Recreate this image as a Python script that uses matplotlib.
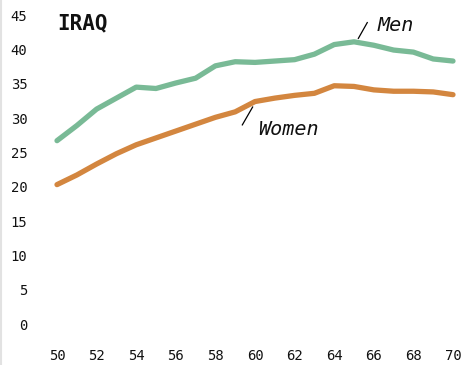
import matplotlib
matplotlib.use("Agg")
import matplotlib.pyplot as plt

years = list(range(50, 71))
men = [26.7, 28.9, 31.3, 32.9, 34.5, 34.3, 35.1, 35.8, 37.6, 38.2, 38.1,
       38.3, 38.5, 39.3, 40.7, 41.1, 40.6, 39.9, 39.6, 38.6, 38.3]
women = [20.3, 21.7, 23.3, 24.8, 26.1, 27.1, 28.1, 29.1, 30.1, 30.9, 32.4,
         32.9, 33.3, 33.6, 34.7, 34.6, 34.1, 33.9, 33.9, 33.8, 33.4]

xticks = list(range(50, 71, 2))
yticks = list(range(0, 46, 5))

green = "#79ba96"
orange = "#d3863f"
mono = "DejaVu Sans Mono"

fig = plt.figure(figsize=(4.64, 3.65), dpi=100)
ax = fig.add_axes([37.2 / 464, (365 - 344.6) / 365, 425.7 / 464, 343.3 / 365])

ax.plot(years, men, color=green, lw=3.8, solid_capstyle="round", solid_joinstyle="round")
ax.plot(years, women, color=orange, lw=3.8, solid_capstyle="round", solid_joinstyle="round")

ax.set_xlim(49, 70.5)
ax.set_ylim(-3, 47)
ax.set_xticks(xticks)
ax.set_yticks(yticks)
ax.tick_params(length=0, labelsize=10, colors="#111111", pad=7)
ax.tick_params(axis="x", pad=3)
for lab in ax.get_xticklabels() + ax.get_yticklabels():
    lab.set_family(mono)
for s in ax.spines.values():
    s.set_visible(False)

ax.text(50, 42.9, "IRAQ", family=mono, weight="bold", fontsize=15, color="#111111")

# leader lines and series labels
ax.plot([65.22, 65.67], [41.6, 43.9], color="black", lw=0.9)
ax.text(66.2, 43.5, "Men", family=mono, style="italic", fontsize=14.5, va="center", color="#111111")
ax.plot([59.36, 59.88], [29.0, 31.6], color="black", lw=0.9)
ax.text(60.15, 28.3, "Women", family=mono, style="italic", fontsize=14.5, va="center", color="#111111")

# thin rule on the left edge
fig.add_artist(plt.Line2D([0.002, 0.002], [0, 1], color="#e2e2e2", lw=1.5))

fig.savefig("out.png", dpi=100)
